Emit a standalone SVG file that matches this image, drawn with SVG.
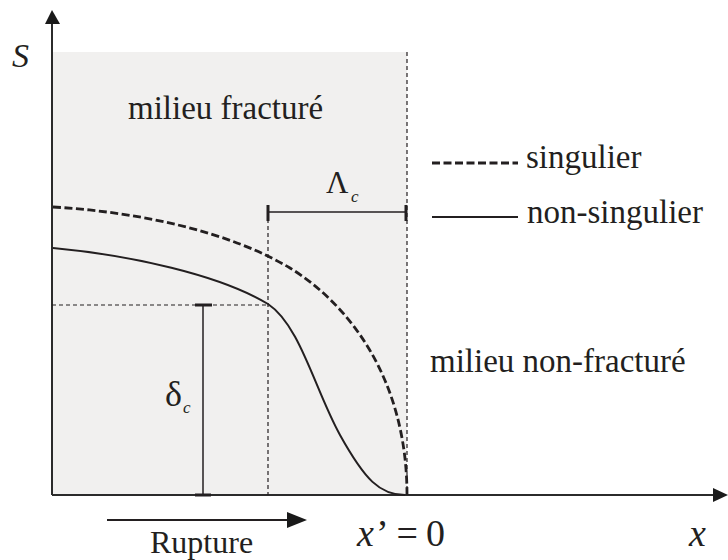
<svg xmlns="http://www.w3.org/2000/svg" width="728" height="560" viewBox="0 0 728 560">
  <style>
    text { font-family: 'Liberation Serif', 'DejaVu Serif', 'Times New Roman', Times, serif; fill: #231f20; }
    .ax { stroke: #2b2b2b; stroke-width: 2; fill: none; }
    .thin { stroke: #231f20; stroke-width: 1.2; stroke-dasharray: 4 3; fill: none; }
    .sing { stroke: #231f20; stroke-width: 2.8; stroke-dasharray: 8 3.5; fill: none; }
    .nsing { stroke: #231f20; stroke-width: 2; fill: none; }
    .bar { stroke: #231f20; stroke-width: 1.5; fill: none; }
    .tick { stroke: #231f20; stroke-width: 3; fill: none; }
    .head { fill: #1a1a1a; }
  </style>

  <g id="fractured-zone">
    <rect x="52" y="52" width="355" height="443" fill="#f1f0ef"/>
    <text x="128" y="119" font-size="33">milieu fracturé</text>
  </g>

  <g id="unfractured-zone">
    <text x="430" y="372" font-size="33">milieu non-fracturé</text>
  </g>

  <g id="axes">
    <line class="ax" x1="52" y1="495" x2="52" y2="20"/>
    <polygon class="head" points="52,10 45,24 60,24"/>
    <line class="ax" x1="52" y1="495" x2="716" y2="495" stroke-width="2.4"/>
    <polygon class="head" points="728,495 713,488 713,502"/>
    <text x="12" y="67" font-size="34" font-style="italic">S</text>
    <text x="689" y="546" font-size="38" font-style="italic">x</text>
  </g>

  <g id="guides">
    <line class="thin" x1="407" y1="52" x2="407" y2="495"/>
    <line class="thin" x1="268" y1="212" x2="268" y2="495"/>
    <line class="thin" x1="52" y1="305" x2="268" y2="305"/>
  </g>

  <g id="lambda-c">
    <line class="bar" x1="268" y1="212" x2="407" y2="212"/>
    <line class="tick" x1="268" y1="205" x2="268" y2="221"/>
    <line class="tick" x1="406" y1="205" x2="406" y2="221"/>
    <text x="326" y="193" font-size="31">Λ</text>
    <text x="351" y="202" font-size="17" font-style="italic">c</text>
  </g>

  <g id="delta-c">
    <line class="bar" x1="203" y1="305" x2="203" y2="495"/>
    <line class="tick" x1="195" y1="305" x2="212" y2="305" stroke-width="2.5"/>
    <line class="tick" x1="195" y1="495" x2="211" y2="495" stroke-width="2.5"/>
    <text x="165" y="406" font-size="36">δ</text>
    <text x="183" y="413" font-size="17" font-style="italic">c</text>
  </g>

  <g id="curves">
    <path id="singular-curve" class="sing" d="M53,207 C140,212 230,232 290,268 C350,305 407,380 407,495"/>
    <path id="nonsingular-curve" class="nsing" d="M53,248 C130,255 220,275 268,304 C300,325 315,390 340,435 C365,480 380,495 405,495"/>
  </g>

  <g id="legend">
    <line class="sing" x1="432" y1="163" x2="518" y2="163" stroke-width="2.4" stroke-dasharray="7 3"/>
    <text x="526" y="168" font-size="33">singulier</text>
    <line class="nsing" x1="432" y1="217" x2="518" y2="217" stroke-width="2.4"/>
    <text x="527" y="223" font-size="33">non-singulier</text>
  </g>

  <g id="rupture">
    <line class="nsing" x1="107" y1="520" x2="290" y2="520" stroke-width="1.8"/>
    <polygon class="head" points="307,520 287,512 287,528"/>
    <text x="150" y="553" font-size="32">Rupture</text>
  </g>

  <g id="origin-label">
    <text x="357" y="546" font-size="38"><tspan font-style="italic">x</tspan><tspan dx="2">’</tspan><tspan dx="8">=</tspan><tspan dx="8">0</tspan></text>
  </g>
</svg>
